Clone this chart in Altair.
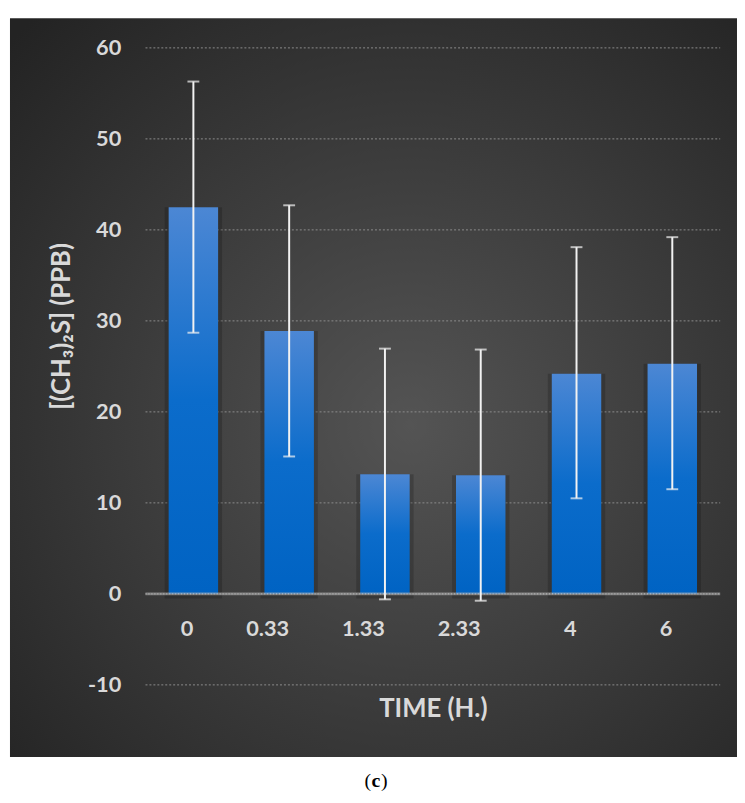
import altair as alt
import pandas as pd

times = ["0", "0.33", "1.33", "2.33", "4", "6"]
means = [42.5, 28.9, 13.15, 13.05, 24.2, 25.3]
lows = [28.7, 15.1, -0.6, -0.75, 10.5, 11.5]
highs = [56.3, 42.7, 26.95, 26.85, 38.1, 39.2]
y_ticks = [-10, 0, 10, 20, 30, 40, 50, 60]
grid_vals = [-10, 10, 20, 30, 40, 50, 60]

df = pd.DataFrame({"time": times, "mean": means, "low": lows, "high": highs})
grid_df = pd.DataFrame({"v": grid_vals})
zero_df = pd.DataFrame({"v": [0]})
one = pd.DataFrame({"a": [0]})

W, H = 581, 644
FONT = "Lato"
TXT = "#d9d9d9"

xscale = alt.Scale(domain=times, paddingInner=0.484, paddingOuter=0.242)
yscale = alt.Scale(domain=[-10, 60], nice=False, zero=False)

bg = alt.Chart(one).mark_rect(
    color=alt.RadialGradient(
        gradient="radial",
        stops=[alt.GradientStop(offset=0, color="#545454"),
               alt.GradientStop(offset=1, color="#232323")],
        x1=0.55, y1=0.55, r1=0, x2=0.55, y2=0.55, r2=0.75),
).encode(x=alt.value(-137), x2=alt.value(598), y=alt.value(-30), y2=alt.value(717))

grid = alt.Chart(grid_df).mark_rule(color="#8c8c8c", strokeWidth=1, strokeDash=[2, 2]).encode(
    y=alt.Y("v:Q", scale=yscale), x=alt.value(0), x2=alt.value(W))

zero = alt.Chart(zero_df).mark_rule(color="#b0b0b0", strokeWidth=3, opacity=0.6).encode(
    y=alt.Y("v:Q", scale=yscale), x=alt.value(0), x2=alt.value(W))
zero2 = alt.Chart(zero_df).mark_rule(color="#e0e0e0", strokeWidth=1, strokeDash=[1, 2], opacity=0.7).encode(
    y=alt.Y("v:Q", scale=yscale), x=alt.value(0), x2=alt.value(W))

base = alt.Chart(df)

shadow = base.mark_bar(color="#000000", opacity=0.18, width=58).encode(
    x=alt.X("time:N", scale=xscale, sort=times),
    y=alt.Y("mean:Q", scale=yscale),
    y2=alt.datum(-0.5),
)

bars = base.mark_bar(
    width=50,
    color=alt.LinearGradient(
        gradient="linear",
        stops=[alt.GradientStop(offset=0, color="#4c87d4"),
               alt.GradientStop(offset=0.5, color="#0b6ccb"),
               alt.GradientStop(offset=1, color="#0063c3")],
        x1=0, x2=0, y1=0, y2=1),
).encode(
    x=alt.X("time:N", scale=xscale, sort=times,
            axis=alt.Axis(orient="bottom", offset=-92, domain=False, ticks=False,
                          labelAngle=0, labelFont=FONT, labelFontSize=22, labelFontWeight="bold",
                          labelColor=TXT, labelPadding=35, labelBaseline="middle",
                          title="TIME (H.)", titleFont=FONT, titleFontSize=26, titleFontWeight="bold",
                          titleColor=TXT, titleY=116, titleBaseline="middle", zindex=1)),
    y=alt.Y("mean:Q", scale=yscale,
            axis=alt.Axis(values=y_ticks, grid=False, domain=False, ticks=False,
                          labelExpr="replace(datum.label, '\u2212', '-')",
                          labelFont=FONT, labelFontSize=22, labelFontWeight="bold",
                          labelColor=TXT, labelPadding=25,
                          title="[(CH₃)₂S] (PPB)", titleFont=FONT, titleFontSize=26,
                          titleFontWeight="bold", titleColor=TXT, titleX=-85, titleY=281,
                          titleBaseline="middle", titleAngle=270, zindex=1)),
    y2=alt.datum(0),
)

err = base.mark_rule(color="#f2f2f2", strokeWidth=2).encode(
    x=alt.X("time:N", scale=xscale, sort=times),
    y=alt.Y("low:Q", scale=yscale),
    y2="high:Q",
)
cap_lo = base.mark_tick(color="#f2f2f2", size=12, thickness=2).encode(
    x=alt.X("time:N", scale=xscale, sort=times),
    y=alt.Y("low:Q", scale=yscale),
)
cap_hi = base.mark_tick(color="#f2f2f2", size=12, thickness=2).encode(
    x=alt.X("time:N", scale=xscale, sort=times),
    y=alt.Y("high:Q", scale=yscale),
)

cap_y = 741
cx = 233
lp = alt.Chart(one).mark_text(text="(", font="Liberation Serif", fontSize=20, color="#000000",
                               align="right", baseline="middle").encode(
    x=alt.value(cx - 5), y=alt.value(cap_y))
cc = alt.Chart(one).mark_text(text="c", font="Liberation Serif", fontSize=20, fontWeight="bold",
                               color="#000000", align="center", baseline="middle").encode(
    x=alt.value(cx), y=alt.value(cap_y))
rp = alt.Chart(one).mark_text(text=")", font="Liberation Serif", fontSize=20, color="#000000",
                               align="left", baseline="middle").encode(
    x=alt.value(cx + 5), y=alt.value(cap_y))

chart = alt.layer(bg, grid, shadow, bars, zero, zero2, err, cap_lo, cap_hi, lp, cc, rp).properties(
    width=W, height=H,
    autosize=alt.AutoSizeParams(type="none"),
    padding={"left": 139, "top": 36, "right": 17, "bottom": 106},
    background="#ffffff",
).configure_view(stroke=None)

chart.save("out.html", embed_options={"renderer": "svg", "actions": False})
